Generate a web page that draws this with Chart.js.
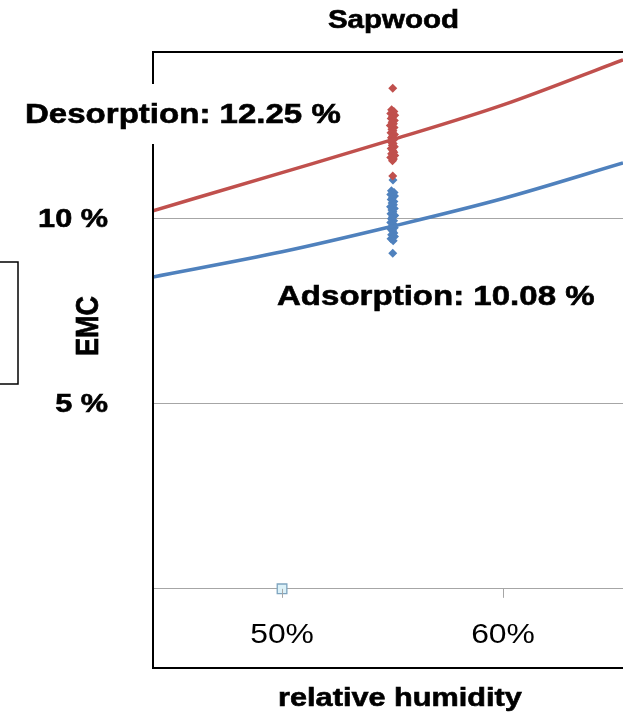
<!DOCTYPE html>
<html><head><meta charset="utf-8">
<script src="https://cdn.jsdelivr.net/npm/chart.js@4.4.1/dist/chart.umd.min.js"></script>
<style>html,body{margin:0;padding:0;background:#fff;overflow:hidden}#wrap{position:relative;width:623px;height:715px}</style>
</head><body><div id="wrap"><canvas id="c" width="623" height="715"></canvas></div>
<script>
const chartTitle = 'Sapwood';
const xAxisTitle = 'relative humidity';
const yAxisTitle = 'EMC';
const xTickValues = [50, 60];
const xTickLabels = ['50%', '60%'];
const yTickValues = [0, 5, 10];
const yTickLabels = ['', '5 %', '10 %'];
const desorptionLabel = 'Desorption: 12.25 %';
const adsorptionLabel = 'Adsorption: 10.08 %';

// fitted sorption curves
const curveRH = [44.16, 50, 55, 60, 65.43];
const desorptionCurve = [10.22, 11.25, 12.14, 13.08, 14.30];
const adsorptionCurve = [8.43, 9.11, 9.80, 10.55, 11.51];

// measured points
const desorptionRH = [55.01, 54.96, 55.06, 54.92, 55.10, 55.00, 54.94, 55.08, 54.98, 55.04, 54.90, 55.07, 54.97, 55.02, 54.93, 55.09, 55.00, 54.95, 55.05, 54.91, 55.03, 54.99, 55.08, 54.94, 55.01, 55.06, 54.96, 55.10, 54.92, 55.04, 55.00, 55.01];
const desorptionEMC = [13.53, 12.95, 12.90, 12.85, 12.80, 12.76, 12.71, 12.66, 12.61, 12.57, 12.52, 12.47, 12.42, 12.38, 12.33, 12.28, 12.23, 12.19, 12.14, 12.09, 12.04, 11.99, 11.95, 11.90, 11.85, 11.80, 11.76, 11.71, 11.66, 11.62, 11.57, 11.16];
const adsorptionRH = [55.02, 54.95, 55.07, 54.92, 55.09, 55.00, 54.94, 55.06, 54.98, 55.04, 54.91, 55.08, 54.97, 55.02, 54.93, 55.10, 55.00, 54.95, 55.05, 54.92, 55.03, 54.99, 55.08, 54.94, 55.01, 55.06, 54.96, 55.09, 54.93, 55.03, 55.01];
const adsorptionEMC = [11.05, 10.76, 10.71, 10.66, 10.62, 10.57, 10.52, 10.47, 10.43, 10.38, 10.33, 10.28, 10.24, 10.19, 10.14, 10.09, 10.05, 10.00, 9.95, 9.90, 9.86, 9.81, 9.76, 9.71, 9.67, 9.62, 9.57, 9.52, 9.46, 9.41, 9.07];
const markerRH = [50];
const markerEMC = [0];

const RED = '#c0504d', BLUE = '#4f81bd';
const toXY = (xs, ys) => xs.map((x, i) => ({x: x, y: ys[i]}));
const SX = 1.18;

function sText(ctx, text, x, y, font, align, heavy) {
  ctx.save();
  ctx.font = font; ctx.textAlign = align; ctx.textBaseline = 'alphabetic';
  ctx.fillStyle = '#000';
  ctx.translate(x, y); ctx.scale(SX, 1);
  ctx.fillText(text, 0, 0);
  if (heavy) { ctx.strokeStyle = '#000'; ctx.lineWidth = 0.6; ctx.strokeText(text, 0, 0); }
  ctx.restore();
}

const decor = {
  id: 'decor',
  afterDraw(chart) {
    const ctx = chart.ctx, a = chart.chartArea;
    const xs = chart.scales.x, ys = chart.scales.y;
    const y0 = ys.getPixelForValue(0);
    ctx.save();
    ctx.strokeStyle = '#a6a6a6'; ctx.lineWidth = 1;
    xTickValues.forEach(v => {
      const px = Math.round(xs.getPixelForValue(v)) + 0.5;
      ctx.beginPath(); ctx.moveTo(px, y0); ctx.lineTo(px, y0 + 9); ctx.stroke();
    });
    ctx.strokeStyle = '#000'; ctx.lineWidth = 2;
    ctx.beginPath();
    ctx.moveTo(a.right + 5, a.top); ctx.lineTo(a.left, a.top); ctx.lineTo(a.left, a.bottom); ctx.lineTo(a.right + 5, a.bottom);
    ctx.stroke();
    ctx.lineWidth = 1.5;
    ctx.strokeRect(-10, 262, 28, 122);
    ctx.fillStyle = '#fff';
    ctx.fillRect(15, 84, 335, 60);
    ctx.restore();

    const B = '"Liberation Sans", Arial, sans-serif';
    sText(ctx, chartTitle, 393.5, 28, 'bold 25px ' + B, 'center', true);
    sText(ctx, desorptionLabel, 25, 123, 'bold 28px ' + B, 'left', true);
    sText(ctx, adsorptionLabel, 277, 305, 'bold 28px ' + B, 'left', true);
    yTickValues.forEach((v, i) => {
      if (!yTickLabels[i]) return;
      sText(ctx, yTickLabels[i], 108, ys.getPixelForValue(v) + 8.5, 'bold 26px ' + B, 'right', true);
    });
    xTickValues.forEach((v, i) => {
      sText(ctx, xTickLabels[i], xs.getPixelForValue(v), 643, '27px ' + B, 'center', false);
    });
    sText(ctx, xAxisTitle, 400, 706, 'bold 26px ' + B, 'center', true);
    ctx.save();
    ctx.font = 'bold 27px ' + B;
    ctx.fillStyle = '#000'; ctx.textAlign = 'center'; ctx.textBaseline = 'middle';
    ctx.translate(88, 326); ctx.scale(SX, 1); ctx.rotate(-Math.PI / 2);
    ctx.fillText(yAxisTitle, 0, 1);
    ctx.strokeStyle = '#000'; ctx.lineWidth = 0.6; ctx.strokeText(yAxisTitle, 0, 1);
    ctx.restore();
  }
};

new Chart(document.getElementById('c'), {
  type: 'scatter',
  data: {
    datasets: [
      {label: 'Desorption points', data: toXY(desorptionRH, desorptionEMC), pointStyle: 'rectRot', pointRadius: 4.5, backgroundColor: RED, borderColor: RED, borderWidth: 0, order: 3},
      {label: 'Adsorption points', data: toXY(adsorptionRH, adsorptionEMC), pointStyle: 'rectRot', pointRadius: 4.5, backgroundColor: BLUE, borderColor: BLUE, borderWidth: 0, order: 3},
      {label: 'Desorption', type: 'line', data: toXY(curveRH, desorptionCurve), borderColor: RED, borderWidth: 3.5, pointRadius: 0, cubicInterpolationMode: 'monotone', fill: false, order: 2},
      {label: 'Adsorption', type: 'line', data: toXY(curveRH, adsorptionCurve), borderColor: BLUE, borderWidth: 3.5, pointRadius: 0, cubicInterpolationMode: 'monotone', fill: false, order: 2},
      {label: 'marker', data: toXY(markerRH, markerEMC), pointStyle: 'rect', pointRadius: 6.8, backgroundColor: '#dcf1f8', borderColor: '#7ea4bf', borderWidth: 1.3, order: 1, clip: false}
    ]
  },
  options: {
    responsive: false, animation: false, devicePixelRatio: 1,
    layout: {autoPadding: false, padding: {top: 52, left: 0, right: 0, bottom: 0}},
    plugins: {legend: {display: false}, tooltip: {enabled: false}, title: {display: false}},
    scales: {
      x: {
        type: 'linear', min: 44.16, max: 65.43,
        afterBuildTicks: s => { s.ticks = xTickValues.map(v => ({value: v})); },
        afterFit: s => { s.height = 47; },
        ticks: {display: false},
        grid: {display: false, drawTicks: false},
        border: {display: false}
      },
      y: {
        type: 'linear', min: -2.14, max: 14.51,
        afterBuildTicks: s => { s.ticks = yTickValues.map(v => ({value: v})); },
        afterFit: s => { s.width = 153; },
        ticks: {display: false},
        grid: {color: '#a6a6a6', lineWidth: 1, drawTicks: false},
        border: {display: false}
      }
    }
  },
  plugins: [decor]
});
</script></body></html>
